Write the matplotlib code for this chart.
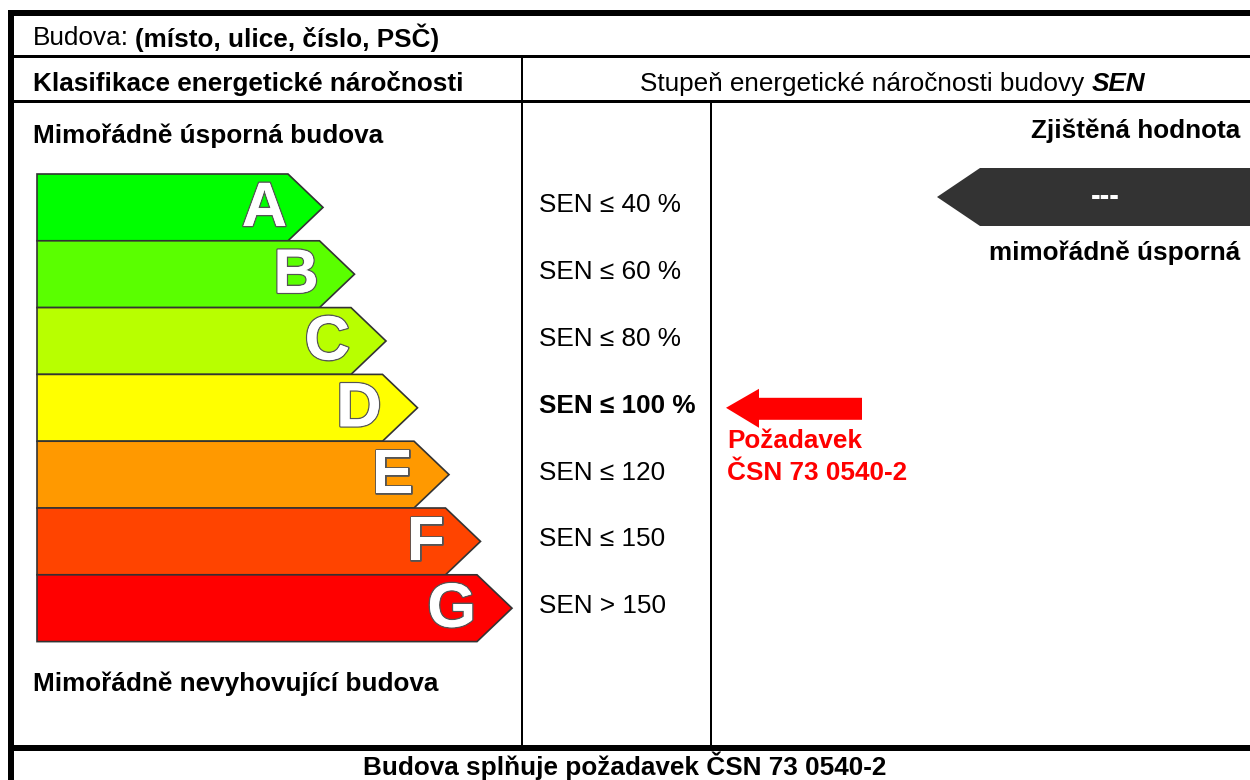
import numpy as np
import matplotlib
matplotlib.use("Agg")
from matplotlib import pyplot as plt
from matplotlib.patches import Polygon
import matplotlib.patheffects as pe

plt.rcParams['font.family'] = ['Liberation Sans', 'DejaVu Sans']

# energy classes
classes = ['A', 'B', 'C', 'D', 'E', 'F', 'G']
colors = ['#00ff00', '#5aff00', '#b8ff00', '#ffff00', '#ff9900', '#ff4400', '#ff0000']
limits = ['SEN ≤ 40 %', 'SEN ≤ 60 %', 'SEN ≤ 80 %', 'SEN ≤ 100 %', 'SEN ≤ 120', 'SEN ≤ 150', 'SEN > 150']
required = 'D'
measured = '---'
measured_label = 'mimořádně úsporná'

fig = plt.figure(figsize=(12.5, 7.8), dpi=100)
ax = fig.add_axes([0, 0, 1, 1])
ax.set_xlim(0, 1250)
ax.set_ylim(780, 0)
ax.axis('off')
rend = fig.canvas.get_renderer()

px = 0.72  # one pixel in points


def width_px(t):
    bb = t.get_window_extent(renderer=rend)
    return bb.width


# table frame
ax.plot([8, 1250], [13, 13], color='k', lw=6 * px, solid_capstyle='butt')
ax.plot([11, 11], [10, 780], color='k', lw=6 * px, solid_capstyle='butt')
ax.plot([11, 1250], [56, 56], color='k', lw=3 * px)
ax.plot([11, 1250], [101, 101], color='k', lw=3 * px)
ax.plot([11, 1250], [748, 748], color='k', lw=6 * px, solid_capstyle='butt')
ax.plot([522, 522], [56, 748], color='k', lw=2 * px)
ax.plot([711, 711], [101, 748], color='k', lw=2 * px)

fs = 18.8
t1 = ax.text(33, 38, 'Budova:', fontsize=fs, va='center')
ax.text(33 + width_px(t1) + 6, 38, '(místo, ulice, číslo, PSČ)', fontsize=fs, va='center', fontweight='bold')
ax.text(33, 84, 'Klasifikace energetické náročnosti', fontsize=fs, va='center', fontweight='bold')
ta = ax.text(0, 84, 'Stupeň energetické náročnosti budovy ', fontsize=fs, va='center', ha='left')
tb = ax.text(0, 84, 'SEN', fontsize=fs, va='center', ha='left', fontweight='bold', style='italic')
wa, wb = width_px(ta), width_px(tb)
xs = 893 - (wa + wb) / 2
ta.set_x(xs)
tb.set_x(xs + wa)
ax.text(33, 136, 'Mimořádně úsporná budova', fontsize=fs, va='center', fontweight='bold')
ax.text(33, 684, 'Mimořádně nevyhovující budova', fontsize=fs, va='center', fontweight='bold')
ax.text(625, 775, 'Budova splňuje požadavek ČSN 73 0540-2', fontsize=fs, va='baseline',
        ha='center', fontweight='bold')

# class arrows
x0 = 37
top0 = 174
h = 66.8
tip = 35
for i, (c, col, lim) in enumerate(zip(classes, colors, limits)):
    y0 = top0 + i * h
    y1 = y0 + h
    xe = 288 + i * 31.5
    poly = Polygon([[x0, y0], [xe, y0], [xe + tip, (y0 + y1) / 2], [xe, y1], [x0, y1]],
                   closed=True, facecolor=col, edgecolor='#333333', lw=1.2)
    ax.add_patch(poly)
    t = ax.text(xe - 1, (y0 + y1) / 2 + 2, c, fontsize=45, color='white', ha='right', va='center',
                fontweight='bold')
    t.set_path_effects([pe.withStroke(linewidth=2, foreground='#555555'), pe.Normal()])
    ax.text(539, (y0 + y1) / 2 - 2, lim, fontsize=fs, va='center',
            fontweight='bold' if c == required else 'normal')

# requirement arrow
iy = classes.index(required)
yr = top0 + iy * h + h / 2
ax.add_patch(Polygon([[726, yr], [759, yr - 19], [759, yr - 10], [862, yr - 10],
                      [862, yr + 12], [759, yr + 12], [759, yr + 20]],
                     closed=True, facecolor='#ff0000', edgecolor='none'))
ax.text(727, 441, 'Požadavek', fontsize=fs, va='center', color='#ff0000', fontweight='bold')
ax.text(727, 473, 'ČSN 73 0540-2', fontsize=fs, va='center', color='#ff0000', fontweight='bold')

# measured value arrow
ym = 197
ax.text(1240, 131, 'Zjištěná hodnota', fontsize=fs, va='center', ha='right', fontweight='bold')
ax.add_patch(Polygon([[937, ym], [980, ym - 29], [1250, ym - 29], [1250, ym + 29], [980, ym + 29]],
                     closed=True, facecolor='#333333', edgecolor='none'))
ax.text(1105, ym, measured, fontsize=fs + 2, va='center', ha='center', color='white', fontweight='bold')
ax.text(1240, 253, measured_label, fontsize=fs, va='center', ha='right', fontweight='bold')

fig.savefig('out.png', dpi=100)
